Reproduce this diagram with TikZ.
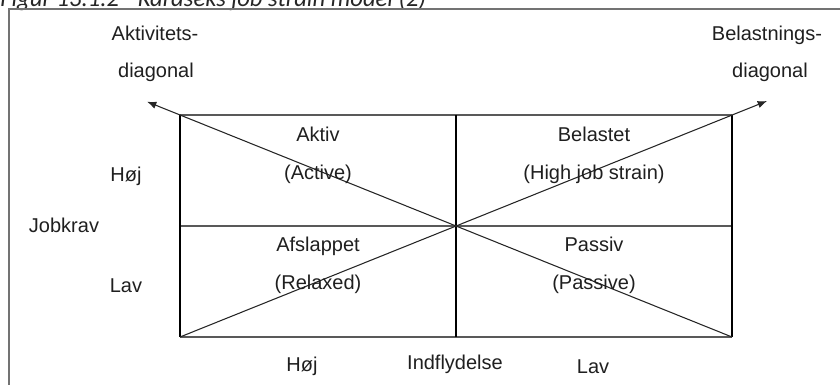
\documentclass[tikz,border=0pt]{standalone}
\usepackage{fontspec}
\setmainfont{Liberation Sans}
\newfontfamily\capfont{Carlito}
\usetikzlibrary{arrows.meta}
\begin{document}
\begin{tikzpicture}[x=0.75pt,y=-0.75pt,
  lbl/.style={anchor=base,inner sep=0pt,font=\fontsize{15}{18}\selectfont,text=black!88},
  frameline/.style={draw=black!55,line width=1.5pt},
  hline/.style={draw=black!65,line width=1.2pt},
  vline/.style={draw=black,line width=0.9pt},
  diag/.style={draw=black!85,line width=0.8pt},
  diagarrow/.style={diag,-{Latex[length=7pt,width=5.5pt]}}]
\useasboundingbox (0,0) rectangle (840,385);
\clip (0,0) rectangle (840,385);
% caption, cut off by the top edge
\node[anchor=base west,inner sep=0pt,font=\capfont\itshape\fontsize{18.5}{22}\selectfont,text=black!85] (cap) at (0,6.5) {Figur 13.1.2 - Karaseks job strain model (2)};
% frame
\draw[frameline] (9,9) rectangle (870,420);
% grid coordinates
\coordinate (TL) at (180,115);
\coordinate (TR) at (732,115);
\coordinate (BL) at (180,337);
\coordinate (BR) at (732,337);
\coordinate (C) at (456,226);
\coordinate (ML) at (180,226);
\coordinate (MR) at (732,226);
\coordinate (MT) at (456,115);
\coordinate (MB) at (456,337);
\coordinate (TipL) at (147,101.7);
\coordinate (TipR) at (767,101);
% box
\draw[hline] (TL) -- (TR);
\draw[hline] (BL) -- (BR);
\draw[hline] (ML) -- (MR);
\draw[vline] (TL) -- (BL);
\draw[vline] (TR) -- (BR);
\draw[vline] (MT) -- (MB);
% diagonals
\draw[diagarrow] (BR) -- (TipL);
\draw[diagarrow] (BL) -- (TipR);
% labels
\node[lbl] (akt1) at (155,40.7) {Aktivitets-};
\node[lbl] (akt2) at (156,78) {diagonal};
\node[lbl] (bel1) at (767,40.7) {Belastnings-};
\node[lbl] (bel2) at (770,78) {diagonal};
\node[lbl] (aktiv) at (318,142) {Aktiv};
\node[lbl] (active) at (318,180) {(Active)};
\node[lbl] (belastet) at (594,142) {Belastet};
\node[lbl] (strain) at (594,180) {(High job strain)};
\node[lbl] (afsl) at (318,251) {Afslappet};
\node[lbl] (relaxed) at (318,289.5) {(Relaxed)};
\node[lbl] (passiv) at (594,251) {Passiv};
\node[lbl] (passive) at (594,289.5) {(Passive)};
\node[lbl] (hojv) at (126,181) {Høj};
\node[lbl] (jobkrav) at (64,232.5) {Jobkrav};
\node[lbl] (lavv) at (126,292) {Lav};
\node[lbl] (hojh) at (302,371) {Høj};
\node[lbl] (indfl) at (455,369.5) {Indflydelse};
\node[lbl] (lavh) at (593,373) {Lav};
\end{tikzpicture}
\end{document}
